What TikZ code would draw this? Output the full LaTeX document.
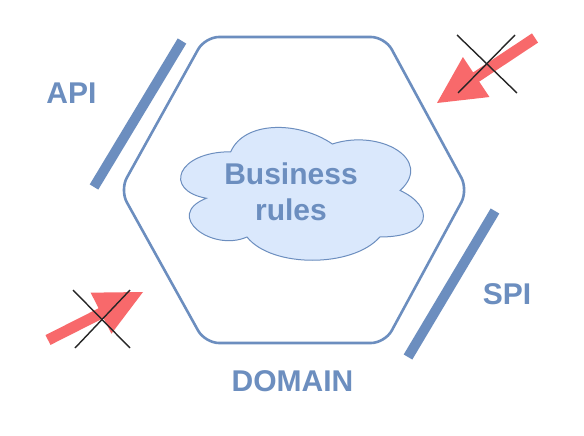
\documentclass[tikz,border=0pt]{standalone}
\usepackage{fontspec}
\setmainfont{Liberation Sans}
\usetikzlibrary{calc}
\definecolor{blu}{HTML}{6C8EBF}
\definecolor{cloudfill}{HTML}{DAE8FC}
\definecolor{redarrow}{HTML}{F8696B}
\begin{document}
\begin{tikzpicture}[x=1pt,y=-1pt,
  hexa/.style={draw=blu, line width=2.6pt, rounded corners=14pt},
  port/.style={draw=blu, line width=10pt},
  lbl/.style={text=blu, font=\fontsize{30}{36}\selectfont\bfseries, inner sep=0pt},
  rulestext/.style={text=blu, font=\fontsize{30}{36}\selectfont\bfseries, inner sep=0pt, align=center},
  cloudline/.style={draw=blu, line width=1pt, fill=cloudfill},
  cross/.style={draw=black!85, line width=1.4pt},
  flex/.style={fill=redarrow, draw=none}]
\useasboundingbox (0,0) rectangle (584,436);
\fill[white] (0,0) rectangle (584,436);
% hexagon (domain)
\draw[hexa] (295,37) -- (385,37) -- (468,190) -- (385,343) -- (205,343) -- (120,190) -- (205,37) -- cycle;
% ports
\draw[port] (182,41) -- (94,187);
\draw[port] (495,211) -- (408,357);
% labels
\node[lbl] (api) at (71.5,93) {API};
\node[lbl] (spi) at (507,294.5) {SPI};
\node[lbl] (domain) at (292.5,381.5) {DOMAIN};
% cloud
\begin{scope}[shift={(163,113)}, x=271pt, y=-155pt]
\draw[cloudline] (0.25,0.25) .. controls (0.05,0.25) and (0,0.5) .. (0.16,0.55)
  .. controls (0,0.66) and (0.18,0.9) .. (0.31,0.8)
  .. controls (0.4,1) and (0.7,1) .. (0.8,0.8)
  .. controls (1,0.8) and (1,0.6) .. (0.875,0.5)
  .. controls (1,0.3) and (0.8,0.1) .. (0.625,0.2)
  .. controls (0.5,0.05) and (0.3,0.05) .. (0.25,0.25) -- cycle;
\end{scope}
\node[rulestext] (rules) at (291,192) {Business\\rules};
% top-right arrow
\coordinate (t1) at (535,38);
\coordinate (p1) at (437,103);
\coordinate (b1) at ($(p1)!47pt!(t1)$);
\fill[flex] ($(t1)!5.5pt!90:(p1)$) -- ($(b1)!5.5pt!90:(p1)$) -- ($(b1)!24pt!90:(p1)$) -- (p1)
  -- ($(b1)!24pt!-90:(p1)$) -- ($(b1)!5.5pt!-90:(p1)$) -- ($(t1)!5.5pt!-90:(p1)$) -- cycle;
\coordinate (x1a) at (457,35);
\coordinate (x1b) at (517,93);
\coordinate (x1c) at (515,35);
\coordinate (x1d) at (458,93);
\draw[cross] (x1a) -- (x1b);
\draw[cross] (x1c) -- (x1d);
% bottom-left arrow
\coordinate (t2) at (48,340);
\coordinate (p2) at (143,292);
\coordinate (b2) at ($(p2)!47pt!(t2)$);
\fill[flex] ($(t2)!5.5pt!90:(p2)$) -- ($(b2)!5.5pt!90:(p2)$) -- ($(b2)!23pt!90:(p2)$) -- (p2)
  -- ($(b2)!23pt!-90:(p2)$) -- ($(b2)!5.5pt!-90:(p2)$) -- ($(t2)!5.5pt!-90:(p2)$) -- cycle;
\coordinate (x2a) at (73,290);
\coordinate (x2b) at (130,348);
\coordinate (x2c) at (130,290);
\coordinate (x2d) at (75,348);
\draw[cross] (x2a) -- (x2b);
\draw[cross] (x2c) -- (x2d);
\end{tikzpicture}
\end{document}
